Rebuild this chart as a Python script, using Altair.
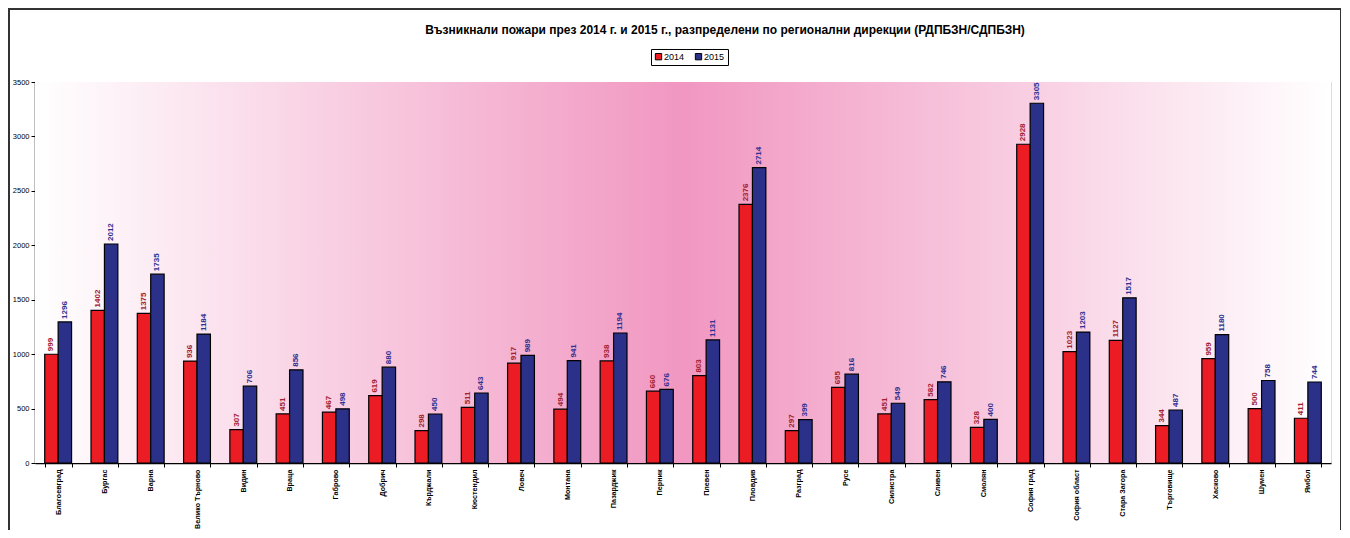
import altair as alt
import pandas as pd

regions = ["Благоевград", "Бургас", "Варна", "Велико Търново", "Видин", "Враца",
           "Габрово", "Добрич", "Кърджали", "Кюстендил", "Ловеч", "Монтана",
           "Пазарджик", "Перник", "Плевен", "Пловдив", "Разград", "Русе",
           "Силистра", "Сливен", "Смолян", "София град", "София област",
           "Стара Загора", "Търговище", "Хасково", "Шумен", "Ямбол"]
v2014 = [999, 1402, 1375, 936, 307, 451, 467, 619, 298, 511, 917, 494, 938, 660,
         803, 2376, 297, 695, 451, 582, 328, 2928, 1023, 1127, 344, 959, 500, 411]
v2015 = [1296, 2012, 1735, 1184, 706, 856, 498, 880, 450, 643, 989, 941, 1194, 676,
         1131, 2714, 399, 816, 549, 746, 400, 3305, 1203, 1517, 487, 1180, 758, 744]
years = ["2014", "2015"]
y_ticks = [0, 500, 1000, 1500, 2000, 2500, 3000, 3500]
title_text = "Възникнали пожари през 2014 г. и 2015 г., разпределени по регионални дирекции (РДПБЗН/СДПБЗН)"

rows = []
for r, a, b in zip(regions, v2014, v2015):
    rows.append({"region": r, "year": "2014", "value": a})
    rows.append({"region": r, "year": "2015", "value": b})
df = pd.DataFrame(rows)

W, H = 1296, 381
FONT = "Liberation Sans"

x_enc = alt.X("region:N", sort=regions, title=None,
              scale=alt.Scale(paddingInner=0.42, paddingOuter=0.21),
              axis=alt.Axis(labelAngle=270, labelFontWeight="bold", labelFontSize=7.2,
                            labelColor="#000000", labelPadding=2, tickBand="extent",
                            tickSize=4, tickColor="#000000", domainColor="#000000",
                            domainWidth=1.5, labelFont=FONT, labelLimit=200))
xoff = alt.XOffset("year:N", sort=years, scale=alt.Scale(paddingInner=0, paddingOuter=0))
y_enc = alt.Y("value:Q", title=None,
              scale=alt.Scale(domain=[0, 3500], nice=False),
              axis=alt.Axis(values=y_ticks, format="d", grid=False, labelFontSize=7.5,
                            labelColor="#000000", tickSize=4, tickColor="#000000",
                            domainColor="#000000", domainWidth=1.5, labelFont=FONT,
                            labelPadding=2))

bg = alt.Chart(df).mark_rect(
    color=alt.Gradient(gradient="linear", x1=0, x2=1, y1=0, y2=0,
                       stops=[alt.GradientStop(offset=0, color="#ffffff"),
                              alt.GradientStop(offset=0.5, color="#f197c1"),
                              alt.GradientStop(offset=1, color="#ffffff")])
).encode(x=alt.value(0), x2=alt.value(W), y=alt.value(0), y2=alt.value(H))

frame = alt.Chart(df).mark_rect(fill=None, stroke="#333333", strokeWidth=1.5).encode(
    x=alt.value(-26.3), x2=alt.value(1306), y=alt.value(-73.3), y2=alt.value(480))

bars = alt.Chart(df).mark_bar(stroke="#000000", strokeWidth=1.2).encode(
    x=x_enc, xOffset=xoff, y=y_enc,
    color=alt.Color("year:N", sort=years,
                    scale=alt.Scale(domain=years, range=["#ec1c24", "#2b3088"]),
                    legend=alt.Legend(title=None, orient="none", legendX=616, legendY=-33,
                                      direction="horizontal", columns=2,
                                      strokeColor="#000000", padding=3, fillColor="#ffffff",
                                      symbolType="square", symbolSize=40,
                                      symbolStrokeColor="#000000", symbolStrokeWidth=1,
                                      labelFontSize=9, labelFont=FONT, labelColor="#000000",
                                      columnPadding=8, symbolOffset=0, labelOffset=1)))

lab14 = alt.Chart(df).transform_filter(alt.datum.year == "2014").mark_text(
    angle=270, align="left", baseline="middle", dx=3, fontSize=8, fontWeight="bold",
    font=FONT, color="#a3202e").encode(
    x=alt.X("region:N", sort=regions), xOffset=alt.XOffset("year:N", sort=years),
    y="value:Q", text="value:Q")
lab15 = alt.Chart(df).transform_filter(alt.datum.year == "2015").mark_text(
    angle=270, align="left", baseline="middle", dx=3, fontSize=8, fontWeight="bold",
    font=FONT, color="#2e3192").encode(
    x=alt.X("region:N", sort=regions), xOffset=alt.XOffset("year:N", sort=years),
    y="value:Q", text="value:Q")

title = alt.Chart(pd.DataFrame({"t": [title_text]})).mark_text(
    fontSize=12, fontWeight="bold", font=FONT, color="#000000", align="center",
    baseline="middle").encode(x=alt.value(690), y=alt.value(-52), text="t:N")

chart = alt.layer(bg, frame, bars, lab14, lab15, title).resolve_scale(
    color="independent").properties(
    width=W, height=H,
    autosize=alt.AutoSizeParams(type="none"),
    padding={"left": 27, "top": 74, "right": 10, "bottom": 67},
).configure_view(stroke="#808080", strokeWidth=1.5).configure(background="#ffffff")

chart.save("out.html", embed_options={"renderer": "svg", "actions": False})
